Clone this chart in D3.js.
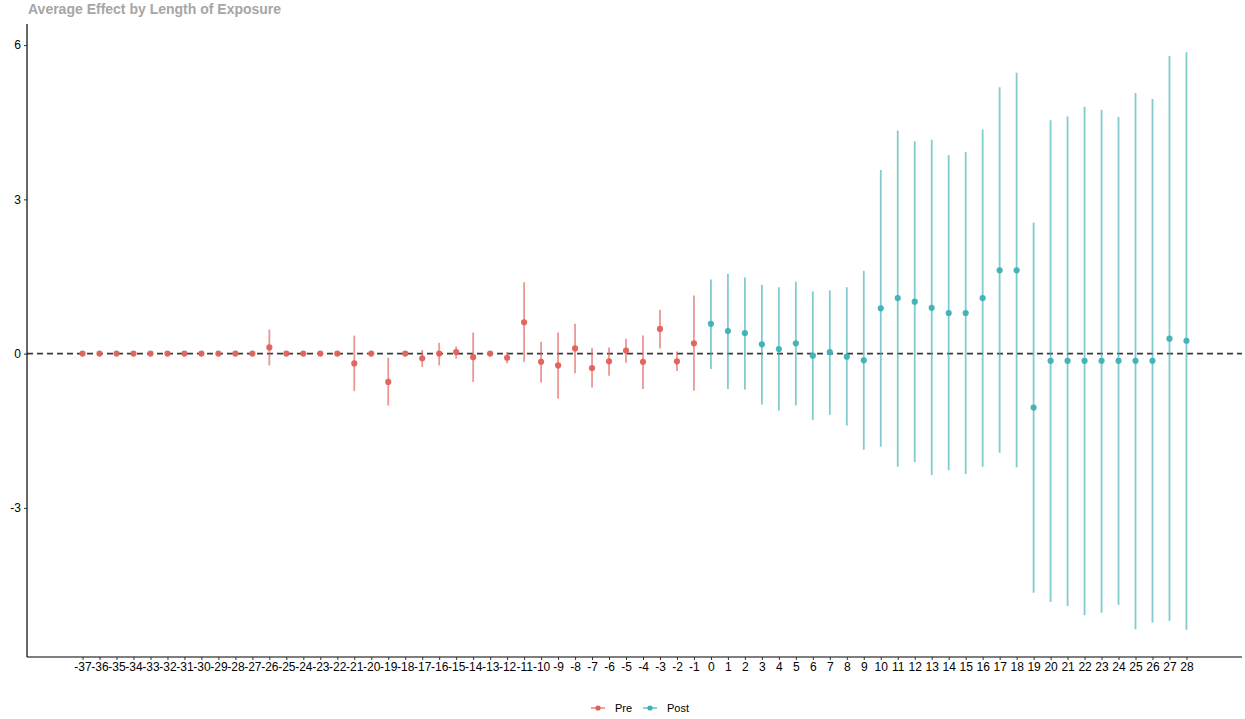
<!DOCTYPE html>
<html>
<head>
<meta charset="utf-8">
<script src="https://cdn.jsdelivr.net/npm/d3@7"></script>
<style>
  html, body { margin: 0; padding: 0; background: #fff; }
  svg { display: block; font-family: "Liberation Sans", Arial, sans-serif; }
</style>
</head>
<body>
<svg id="chart" width="1245" height="719"></svg>
<script>
// ---- data ----
const periods = [-37,-36,-35,-34,-33,-32,-31,-30,-29,-28,-27,-26,-25,-24,-23,-22,-21,-20,-19,-18,-17,-16,-15,-14,-13,-12,-11,-10,-9,-8,-7,-6,-5,-4,-3,-2,-1,
                 0,1,2,3,4,5,6,7,8,9,10,11,12,13,14,15,16,17,18,19,20,21,22,23,24,25,26,27,28];
const estimates = [0,0,0,0,0,0,0,0,0,0,0,0.12,0,0,0,0,-0.19,0,-0.55,0,-0.09,0.0,0.03,-0.07,0,-0.08,0.61,-0.16,-0.23,0.10,-0.28,-0.15,0.06,-0.16,0.48,-0.15,0.20,
                   0.58,0.44,0.40,0.18,0.09,0.20,-0.04,0.03,-0.06,-0.13,0.88,1.08,1.01,0.89,0.79,0.79,1.08,1.62,1.62,-1.05,-0.14,-0.14,-0.14,-0.14,-0.14,-0.14,-0.14,0.29,0.25];
const lowerCI = [0,0,0,0,0,0,0,0,0,0,0,-0.23,0,0,0,0,-0.73,0,-1.01,0,-0.26,-0.23,-0.10,-0.55,0,-0.19,-0.16,-0.56,-0.88,-0.38,-0.66,-0.43,-0.18,-0.69,0.10,-0.34,-0.72,
                 -0.30,-0.69,-0.70,-0.99,-1.11,-1.01,-1.29,-1.19,-1.40,-1.87,-1.81,-2.20,-2.11,-2.36,-2.27,-2.34,-2.20,-1.93,-2.21,-4.65,-4.83,-4.91,-5.09,-5.04,-4.89,-5.36,-5.23,-5.20,-5.37];
const upperCI = [0,0,0,0,0,0,0,0,0,0,0,0.47,0,0,0,0,0.35,0,-0.08,0,0.07,0.21,0.14,0.41,0,0.03,1.39,0.23,0.41,0.58,0.11,0.12,0.29,0.35,0.85,0.04,1.13,
                 1.44,1.55,1.48,1.34,1.29,1.40,1.21,1.23,1.29,1.61,3.57,4.34,4.13,4.16,3.86,3.92,4.36,5.18,5.46,2.55,4.54,4.61,4.80,4.74,4.60,5.07,4.95,5.79,5.86];
const groups = ["Pre", "Post"];
const yTicks = [-3, 0, 3, 6];
const titleText = "Average Effect by Length of Exposure";

const rows = periods.map((p, i) => ({
  period: p, est: estimates[i], lo: lowerCI[i], hi: upperCI[i],
  group: p < 0 ? "Pre" : "Post"
}));

// ---- layout ----
const svg = d3.select("#chart");
const panel = { left: 27, right: 1242, top: 24, bottom: 657 };

const x = d3.scalePoint().domain(periods).range([panel.left, panel.right]).padding(3.27);
const y = d3.scaleLinear().domain([-5.90, 6.41]).range([panel.bottom, panel.top]);
const color = d3.scaleOrdinal().domain(groups).range(["#E2605A", "#3DB1B6"]);

// title
svg.append("text")
  .attr("x", 28).attr("y", 14)
  .attr("font-size", 14).attr("font-weight", "bold")
  .attr("fill", "#A6A6A6")
  .text(titleText);

// zero reference line
svg.append("line")
  .attr("x1", panel.left).attr("x2", panel.right)
  .attr("y1", y(0)).attr("y2", y(0))
  .attr("stroke", "#3a3a3a").attr("stroke-width", 1.6)
  .attr("stroke-dasharray", "6,4");

// error bars
svg.append("g").selectAll("line")
  .data(rows).join("line")
  .attr("x1", d => x(d.period)).attr("x2", d => x(d.period))
  .attr("y1", d => y(d.lo)).attr("y2", d => y(d.hi))
  .attr("stroke", d => color(d.group))
  .attr("stroke-opacity", 0.65)
  .attr("stroke-width", 1.8);

// points
svg.append("g").selectAll("circle")
  .data(rows).join("circle")
  .attr("cx", d => x(d.period)).attr("cy", d => y(d.est))
  .attr("r", 3.1)
  .attr("fill", d => color(d.group))
  .attr("fill-opacity", 0.95);

// axes
const xAxis = svg.append("g")
  .attr("transform", `translate(0,${panel.bottom})`)
  .call(d3.axisBottom(x).tickFormat(d => String(d)).tickSize(3).tickSizeOuter(0).tickPadding(2));
const yAxis = svg.append("g")
  .attr("transform", `translate(${panel.left},0)`)
  .call(d3.axisLeft(y).tickValues(yTicks).tickFormat(d => String(d)).tickSize(3).tickSizeOuter(0).tickPadding(3));

[xAxis, yAxis].forEach(g => {
  g.select(".domain").attr("stroke", "#000").attr("stroke-width", 1.2);
  g.selectAll(".tick line").attr("stroke", "#333");
  g.selectAll(".tick text").attr("fill", "#000").attr("font-size", 12)
    .attr("font-family", "'Liberation Sans', Arial, sans-serif");
});
// extend the axis lines to full panel size
xAxis.select(".domain").attr("d", `M${panel.left},0H${panel.right}`);
yAxis.select(".domain").attr("d", `M0,${panel.top}V${panel.bottom}`);

// legend
const legend = svg.append("g").attr("transform", "translate(0,708)");
const legendItems = [{ g: "Pre", x: 598 }, { g: "Post", x: 650 }];
legendItems.forEach(it => {
  legend.append("line")
    .attr("x1", it.x - 7).attr("x2", it.x + 7).attr("y1", 0).attr("y2", 0)
    .attr("stroke", color(it.g)).attr("stroke-opacity", 0.65).attr("stroke-width", 1.8);
  legend.append("circle").attr("cx", it.x).attr("cy", 0).attr("r", 2.6).attr("fill", color(it.g));
  legend.append("text").attr("x", it.x + 17).attr("y", 4)
    .attr("font-size", 11).attr("fill", "#000").text(it.g);
});
</script>
</body>
</html>
